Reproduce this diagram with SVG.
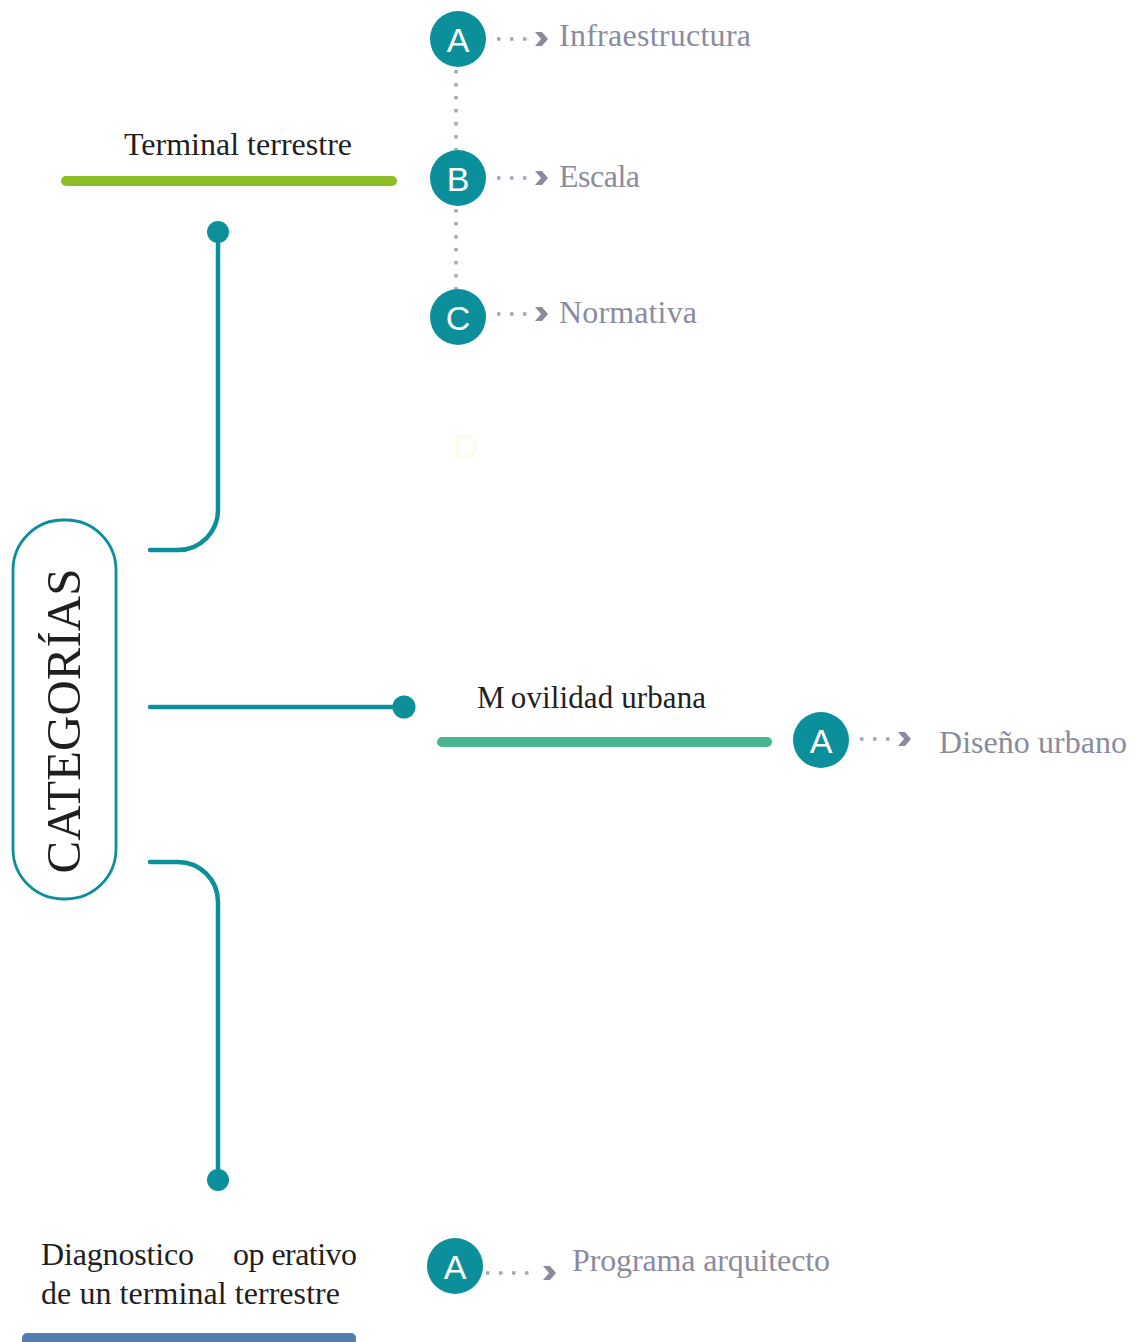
<svg xmlns="http://www.w3.org/2000/svg" width="1135" height="1342" viewBox="0 0 1135 1342">
  <defs>
    <style>
      .title { font-family: "Liberation Serif", "Times New Roman", serif; fill: #1f1f1f; }
      .item { font-family: "Liberation Serif", "Times New Roman", serif; font-size: 32px; fill: #8b8b9e; }
      .badge circle { fill: #0b8f9b; }
      .badge text { font-family: "Liberation Sans", Arial, sans-serif; font-size: 34px; fill: #ffffff; text-anchor: middle; }
      .trunk { fill: none; stroke: #0b8f9b; stroke-width: 4.5; stroke-linecap: round; }
      .knob { fill: #0b8f9b; }
      .dots { fill: none; stroke: #a8a8b8; stroke-width: 3.5; stroke-dasharray: 3.5 9.5; }
      .chev { fill: #8b8b9e; }
      .bar { stroke-width: 10; stroke-linecap: round; }
    </style>
    <polygon id="chevron" points="-7,-7 0,-7 6,0 0,7 -7,7 -1,0"/>
  </defs>
  <rect width="1135" height="1342" fill="#ffffff"/>

  <!-- main connectors from the category box -->
  <g id="connectors">
    <path class="trunk" d="M150 550 H178 A40 40 0 0 0 218 510 V232"/>
    <circle class="knob" cx="218" cy="232" r="11"/>
    <path class="trunk" d="M150 707 H404"/>
    <circle class="knob" cx="404" cy="707" r="11.5"/>
    <path class="trunk" d="M150 862 H178 A40 40 0 0 1 218 902 V1180"/>
    <circle class="knob" cx="218" cy="1180" r="11"/>

    <!-- dotted links between badges and labels -->
    <path class="dots" d="M456 70 V150 M456 209 V290"/>
    <path class="dots" d="M497 39 H530 M497 178 H530 M497 314 H530"/>
    <use class="chev" href="#chevron" x="542" y="39"/>
    <use class="chev" href="#chevron" x="542" y="178"/>
    <use class="chev" href="#chevron" x="542" y="314"/>
    <path class="dots" d="M860 739 H893"/>
    <use class="chev" href="#chevron" x="905" y="739"/>
    <path class="dots" d="M486 1273 H532"/>
    <use class="chev" href="#chevron" x="550" y="1273"/>
  </g>

  <!-- category box -->
  <g id="categorias">
    <rect x="13" y="520" width="103" height="379" rx="50" fill="none" stroke="#0b8f9b" stroke-width="2.8"/>
    <text class="title" transform="translate(80 721) rotate(-90)" font-size="49" text-anchor="middle">CATEGORÍAS</text>
  </g>

  <!-- Terminal terrestre branch -->
  <g id="terminal-terrestre">
    <text class="title" x="124" y="155" font-size="32" textLength="228">Terminal terrestre</text>
    <line class="bar" x1="66" y1="181" x2="392" y2="181" stroke="#8bbd28"/>
  </g>
  <g id="tt-a">
    <g class="badge"><circle cx="458" cy="39" r="28"/><text x="458" y="52">A</text></g>
    <text class="item" x="559" y="46" textLength="192">Infraestructura</text>
  </g>
  <g id="tt-b">
    <g class="badge"><circle cx="458" cy="178" r="28"/><text x="458" y="191">B</text></g>
    <text class="item" x="559" y="187" textLength="81">Escala</text>
  </g>
  <g id="tt-c">
    <g class="badge"><circle cx="458" cy="317" r="28"/><text x="458" y="330">C</text></g>
    <text class="item" x="559" y="323" textLength="138">Normativa</text>
  </g>
  <g id="tt-d">
    <text x="466" y="458" font-family="Liberation Sans, Arial, sans-serif" font-size="34" fill="#fffbe8" text-anchor="middle">D</text>
  </g>

  <!-- Movilidad urbana branch -->
  <g id="movilidad-urbana">
    <text class="title" y="708" font-size="31"><tspan x="477">M</tspan><tspan x="503" textLength="203"> ovilidad urbana</tspan></text>
    <line class="bar" x1="442" y1="742" x2="767" y2="742" stroke="#47b592"/>
  </g>
  <g id="mu-a">
    <g class="badge"><circle cx="821" cy="740" r="28"/><text x="821" y="753">A</text></g>
    <text class="item" x="939" y="753" textLength="188">Diseño urbano</text>
  </g>

  <!-- Diagnostico operativo branch -->
  <g id="diagnostico">
    <text class="title" font-size="32"><tspan x="41" y="1265" textLength="153">Diagnostico</tspan><tspan x="233" y="1265" textLength="124">op erativo</tspan><tspan x="41" y="1304" textLength="299">de un terminal terrestre</tspan></text>
    <rect x="22" y="1333" width="334" height="16" rx="5" fill="#527eb0"/>
  </g>
  <g id="dg-a">
    <g class="badge"><circle cx="455" cy="1266" r="28"/><text x="455" y="1279">A</text></g>
    <text class="item" x="572" y="1271" textLength="258">Programa arquitecto</text>
  </g>
</svg>
